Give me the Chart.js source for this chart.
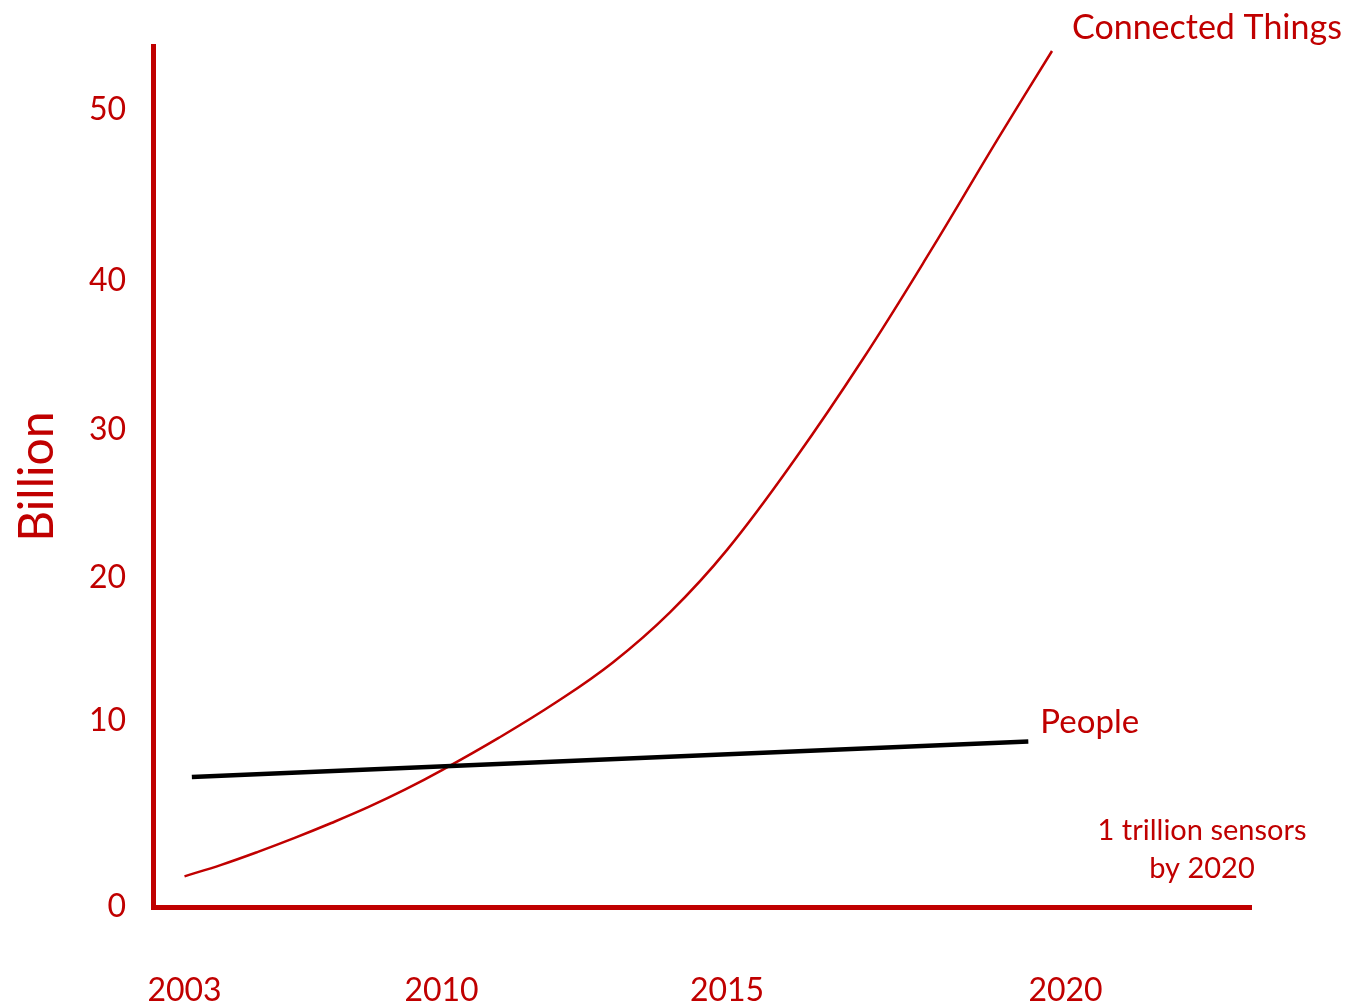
<!DOCTYPE html>
<html>
<head>
<meta charset="utf-8">
<script src="https://cdn.jsdelivr.net/npm/chart.js@4/dist/chart.umd.min.js"></script>
<style>
  body { margin: 0; background: #fff; }
</style>
</head>
<body>
<canvas id="myChart" width="1350" height="1008"></canvas>
<script>
var yearTicks = [2003, 2010, 2015, 2020];
var billionTicks = [0, 10, 20, 30, 40, 50];

var thingsYears = [2003, 2004, 2005, 2006, 2007, 2008, 2009, 2010, 2011, 2012, 2013, 2014, 2015, 2016, 2017, 2018, 2019, 2019.8];
var thingsBillions = [1.65, 2.27, 2.97, 3.72, 4.52, 5.37, 6.31, 7.35, 9.1, 11.3, 14.1, 17.6, 21.9, 28.0, 34.7, 41.7, 48.3, 53.7];

var peopleYears = [2003.2, 2019.45];
var peopleBillions = [7.0, 8.9];

var RED = '#C00000';

// linear scale that is stretched differently between its break values
class PiecewiseScale extends Chart.LinearScale {
  _marks() {
    return {
      vals: [this.min].concat(this.options.breakValues, [this.max]),
      stops: [0].concat(this.options.breakStops, [1])
    };
  }
  getPixelForValue(value) {
    if (value === null || value === undefined) return NaN;
    var m = this._marks();
    var i = 1;
    while (i < m.vals.length - 1 && value > m.vals[i]) i++;
    var t = (value - m.vals[i - 1]) / (m.vals[i] - m.vals[i - 1]);
    return this.getPixelForDecimal(m.stops[i - 1] + t * (m.stops[i] - m.stops[i - 1]));
  }
  getValueForPixel(pixel) {
    var d = this.getDecimalForPixel(pixel);
    var m = this._marks();
    var i = 1;
    while (i < m.stops.length - 1 && d > m.stops[i]) i++;
    var t = (d - m.stops[i - 1]) / (m.stops[i] - m.stops[i - 1]);
    return m.vals[i - 1] + t * (m.vals[i] - m.vals[i - 1]);
  }
}
PiecewiseScale.id = 'piecewise';
PiecewiseScale.defaults = Chart.LinearScale.defaults;
Chart.register(PiecewiseScale);

// series names and the footnote
var notes = {
  id: 'notes',
  afterDatasetsDraw: function(chart) {
    var ctx = chart.ctx, area = chart.chartArea;
    var things = chart.getDatasetMeta(0).data;
    var people = chart.getDatasetMeta(1).data;
    var tEnd = things[things.length - 1], pEnd = people[people.length - 1];
    ctx.save();
    ctx.fillStyle = RED;
    ctx.textBaseline = 'alphabetic';
    ctx.textAlign = 'left';
    ctx.font = '34px Lato';
    ctx.fillText('Connected Things', tEnd.x + 20, tEnd.y - 12);
    ctx.font = '33px Lato';
    ctx.fillText('People', pEnd.x + 12, pEnd.y - 9);
    ctx.font = '29px Lato';
    ctx.textAlign = 'center';
    ctx.fillText('1 trillion sensors', area.right - 49, area.bottom - 67);
    ctx.fillText('by 2020', area.right - 49, area.bottom - 29);
    ctx.restore();
  }
};

Chart.defaults.font.family = 'Lato';
Chart.defaults.color = RED;

new Chart("myChart", {
  type: "line",
  data: {
    datasets: [{
      label: 'Connected Things',
      data: thingsYears.map(function(y, i) { return { x: y, y: thingsBillions[i] }; }),
      borderColor: RED,
      borderWidth: 2.5,
      pointRadius: 0,
      tension: 0.4,
      fill: false,
      order: 1
    },
    {
      label: 'People',
      data: peopleYears.map(function(y, i) { return { x: y, y: peopleBillions[i] }; }),
      borderColor: '#000000',
      borderWidth: 4.5,
      pointRadius: 0,
      fill: false,
      order: 0
    }]
  },
  plugins: [notes],
  options: {
    responsive: false,
    animation: false,
    events: [],
    layout: { padding: { top: 41, right: 99, left: 0, bottom: 0 } },
    plugins: {
      legend: { display: false },
      tooltip: { enabled: false }
    },
    scales: {
      x: {
        type: 'piecewise',
        min: 2002,
        max: 2023,
        breakValues: yearTicks,
        breakStops: [0.0287, 0.2628, 0.5228, 0.8311],
        afterBuildTicks: function(scale) {
          scale.ticks = yearTicks.map(function(v) { return { value: v }; });
        },
        afterFit: function(scale) { scale.height = 101; },
        grid: { display: false, drawTicks: false },
        border: { display: true, color: RED, width: 5 },
        ticks: {
          autoSkip: false,
          maxRotation: 0,
          padding: 64,
          font: { size: 32 },
          callback: function(v) { return String(v); }
        }
      },
      y: {
        type: 'piecewise',
        min: 0,
        max: 54,
        breakValues: [10, 20, 30, 40, 50],
        breakStops: [0.2159, 0.3822, 0.5543, 0.7275, 0.9261],
        afterBuildTicks: function(scale) {
          scale.ticks = billionTicks.map(function(v) { return { value: v }; });
        },
        afterFit: function(scale) { scale.width = 153; },
        grid: { display: false, drawTicks: false },
        border: { display: true, color: RED, width: 5 },
        title: {
          display: true,
          text: 'Billion',
          color: RED,
          font: { size: 48 },
          padding: { top: 9, bottom: 0 }
        },
        ticks: {
          autoSkip: false,
          padding: 27,
          font: { size: 32 },
          callback: function(v) { return String(v); }
        }
      }
    }
  }
});
</script>
</body>
</html>
